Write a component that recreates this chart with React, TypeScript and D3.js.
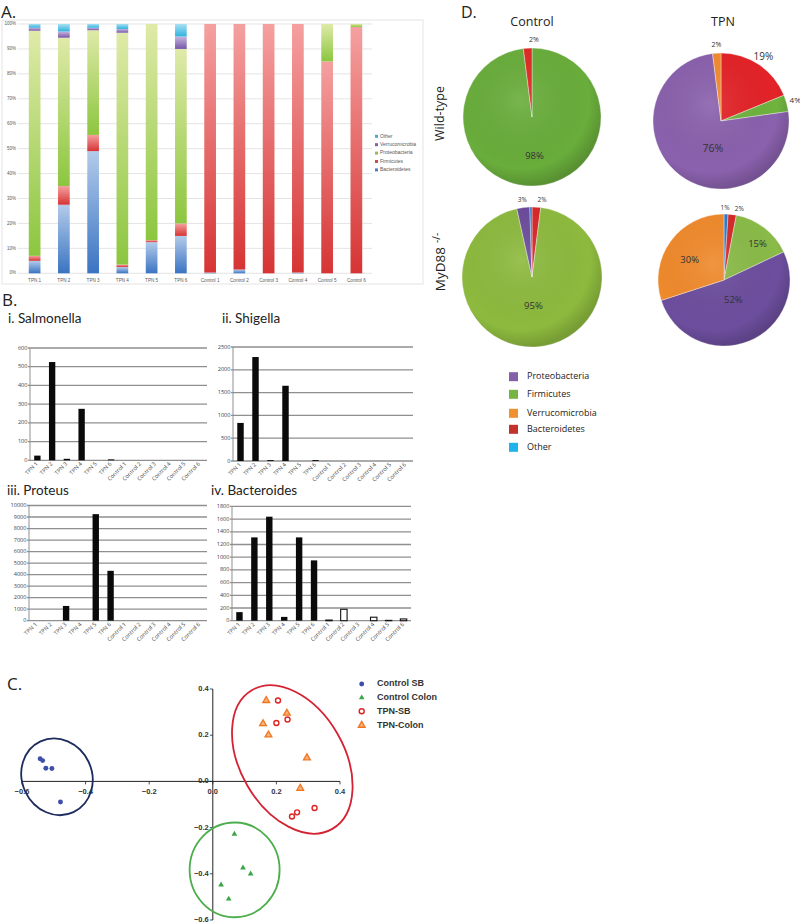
import React from 'react';
import * as d3 from 'd3';

// ---------- Panel A data ----------
const samples = ['TPN 1', 'TPN 2', 'TPN 3', 'TPN 4', 'TPN 5', 'TPN 6', 'Control 1', 'Control 2', 'Control 3', 'Control 4', 'Control 5', 'Control 6'];
const phylaA = ['Bacteroidetes', 'Firmicutes', 'Proteobacteria', 'Verrucomicrobia', 'Other'];
const bacteroidetesPct = [5, 27.5, 49, 2.5, 12.5, 15, 0.3, 1.5, 0, 0.3, 0, 0];
const firmicutesPct = [2, 7.5, 6.5, 1, 0.8, 5, 99.7, 98.5, 100, 99.7, 85, 98.8];
const proteobacteriaPct = [90.3, 59.5, 42, 93, 86.7, 70, 0, 0, 0, 0, 15, 1.2];
const verrucomicrobiaPct = [1.2, 2.5, 1, 1.5, 0, 5, 0, 0, 0, 0, 0, 0];
const otherPct = [1.5, 3, 1.5, 2, 0, 5, 0, 0, 0, 0, 0, 0];
const pctTicks = [0, 10, 20, 30, 40, 50, 60, 70, 80, 90, 100];

// ---------- Panel B data ----------
const salmonella = [25, 525, 8, 275, 0, 5, 0, 0, 0, 0, 0, 0];
const shigella = [835, 2280, 20, 1650, 0, 20, 0, 0, 0, 0, 0, 0];
const proteus = [0, 0, 1280, 0, 9250, 4330, 0, 0, 0, 0, 0, 0];
const bacteroides = [135, 1312, 1638, 60, 1312, 950, 10, 180, 0, 55, 5, 28];

// ---------- Panel C data ----------
const controlSB = [[-0.543, 0.098], [-0.535, 0.09], [-0.525, 0.057], [-0.506, 0.056], [-0.479, -0.089]];
const controlColon = [[0.068, -0.228], [0.095, -0.374], [0.119, -0.4], [0.026, -0.448], [0.05, -0.509]];
const tpnSB = [[0.205, 0.35], [0.2, 0.253], [0.235, 0.268], [0.249, -0.152], [0.265, -0.134], [0.32, -0.115]];
const tpnColon = [[0.168, 0.35], [0.233, 0.295], [0.158, 0.25], [0.175, 0.201], [0.296, 0.102], [0.275, -0.03]];
const pcTicks = [-0.6, -0.4, -0.2, 0, 0.2, 0.4];
const legendC = ['Control SB', 'Control Colon', 'TPN-SB', 'TPN-Colon'];

// ---------- Panel D data ----------
const wtControlNames = ['Firmicutes', 'Bacteroidetes'];
const wtControlPct = [98, 2];
const wtTpnNames = ['Bacteroidetes', 'Firmicutes', 'Proteobacteria', 'Verrucomicrobia'];
const wtTpnPct = [19, 4, 76, 2];
const myControlNames = ['Bacteroidetes', 'Firmicutes', 'Proteobacteria', 'Other'];
const myControlPct = [2, 95, 3, 0.5];
const myTpnNames = ['Other', 'Bacteroidetes', 'Firmicutes', 'Proteobacteria', 'Verrucomicrobia'];
const myTpnPct = [1, 2, 15, 52, 30];
const legendD = ['Proteobacteria', 'Firmicutes', 'Verrucomicrobia', 'Bacteroidetes', 'Other'];

// ---------- styles ----------
const SANS = "'Open Sans', 'Liberation Sans', sans-serif";
const ARIAL = "'Liberation Sans', Arial, sans-serif";
const LATO = "Lato, 'Open Sans', sans-serif";

const gradA: Record<string, [string, string]> = {
  Bacteroidetes: ['#3a74c2', '#b3cbea'],
  Firmicutes: ['#d63434', '#f5a0a0'],
  Proteobacteria: ['#8cc63f', '#dfeaa8'],
  Verrucomicrobia: ['#7656a8', '#c7b6df'],
  Other: ['#2fb2de', '#a8e0f3'],
};
const legendAColor: Record<string, string> = {
  Other: '#4bacc6', Verrucomicrobia: '#8064a2', Proteobacteria: '#9bbb59', Firmicutes: '#c0504d', Bacteroidetes: '#4f81bd',
};
const legendDColor: Record<string, string> = {
  Proteobacteria: '#8560a8', Firmicutes: '#78b443', Verrucomicrobia: '#f0902e', Bacteroidetes: '#c4302b', Other: '#1eb4e8',
};

function PanelA() {
  const x = d3.scaleBand<string>().domain(samples).range([20, 371]).paddingInner(0.6).paddingOuter(0.3);
  const y = d3.scaleLinear().domain([0, 100]).range([273.3, 24]);
  const rows = samples.map((s, i) => ({
    sample: s,
    Bacteroidetes: bacteroidetesPct[i],
    Firmicutes: firmicutesPct[i],
    Proteobacteria: proteobacteriaPct[i],
    Verrucomicrobia: verrucomicrobiaPct[i],
    Other: otherPct[i],
  }));
  const series = d3.stack<any>().keys(phylaA)(rows);
  const legendKeys = [...phylaA].reverse();
  return (
    <g>
      <defs>
        {phylaA.map((k) => (
          <linearGradient key={k} id={`gA-${k}`} x1="0" y1="1" x2="0" y2="0">
            <stop offset="0" stopColor={gradA[k][0]} />
            <stop offset="1" stopColor={gradA[k][1]} />
          </linearGradient>
        ))}
      </defs>
      <text x={1} y={18} fontSize={17} fontFamily={SANS} fill="#222">A.</text>
      <rect x={2} y={20} width={421} height={264} fill="none" stroke="#dcdcdc" strokeWidth={0.8} />
      {pctTicks.map((t) => (
        <g key={t}>
          <line x1={18} x2={372} y1={y(t)} y2={y(t)} stroke="#d9d9d9" strokeWidth={0.7} />
          <text x={16} y={y(t)} fontSize={4.5} textAnchor="end" dominantBaseline="middle" fill="#595959" fontFamily={ARIAL}>{t}%</text>
        </g>
      ))}
      {series.map((s) =>
        s.map((d, i) => {
          const h = y(d[0]) - y(d[1]);
          if (h <= 0.05) return null;
          return <rect key={s.key + i} x={x(samples[i])} y={y(d[1])} width={x.bandwidth()} height={h} fill={`url(#gA-${s.key})`} />;
        })
      )}
      {samples.map((s) => (
        <text key={s} x={(x(s) as number) + x.bandwidth() / 2} y={282} fontSize={4.6} textAnchor="middle" fill="#595959" fontFamily={ARIAL}>{s}</text>
      ))}
      {legendKeys.map((k, i) => (
        <g key={k}>
          <rect x={375} y={134.8 + i * 8.4} width={3} height={3} fill={legendAColor[k]} />
          <text x={380} y={136.3 + i * 8.4} fontSize={5} dominantBaseline="middle" fill="#595959" fontFamily={ARIAL}>{k}</text>
        </g>
      ))}
    </g>
  );
}

type BarProps = {
  title: string; tx: number; ty: number; values: number[];
  x0: number; x1: number; y0: number; y1: number; max: number; step: number; hollowControls?: boolean;
};

function BarPanel({ title, tx, ty, values, x0, x1, y0, y1, max, step, hollowControls }: BarProps) {
  const x = d3.scaleBand<string>().domain(samples).range([x0, x1]).paddingInner(0.57).paddingOuter(0.285);
  const y = d3.scaleLinear().domain([0, max]).range([y0, y1]);
  const ticks = d3.range(0, max + step / 2, step);
  return (
    <g>
      <text x={tx} y={ty} fontSize={13.5} fontFamily={LATO} fill="#222">{title}</text>
      {ticks.map((t) => (
        <g key={t}>
          <line x1={x0 - 2} x2={x1} y1={y(t)} y2={y(t)} stroke="#8f8f8f" strokeWidth={1.3} />
          <text x={x0 - 2.5} y={y(t)} fontSize={5.6} textAnchor="end" dominantBaseline="middle" fill="#444" fontFamily={SANS}>{t}</text>
        </g>
      ))}
      <line x1={x0} x2={x0} y1={y1} y2={y0} stroke="#8f8f8f" strokeWidth={1} />
      {values.map((v, i) => {
        const hollow = hollowControls && samples[i].startsWith('Control');
        const h = y(0) - y(v);
        if (h <= 0) return null;
        return (
          <rect key={i} x={x(samples[i])} y={y(v)} width={x.bandwidth()} height={h}
            fill={hollow ? '#fff' : '#0a0a0a'} stroke={hollow ? '#111' : 'none'} strokeWidth={hollow ? 1.1 : 0} />
        );
      })}
      {samples.map((s) => {
        const cx = (x(s) as number) + x.bandwidth() / 2;
        return (
          <text key={s} transform={`translate(${cx + 1},${y0 + 4}) rotate(-45)`} fontSize={5.6} textAnchor="end" fill="#444" fontFamily={SANS}>{s}</text>
        );
      })}
    </g>
  );
}

function PanelB() {
  return (
    <g>
      <text x={2} y={306} fontSize={17} fontFamily={SANS} fill="#222">B.</text>
      <BarPanel title="i. Salmonella" tx={8} ty={323} values={salmonella} x0={30} x1={207} y0={460.3} y1={348} max={600} step={100} />
      <BarPanel title="ii. Shigella" tx={222} ty={323} values={shigella} x0={233} x1={413} y0={461} y1={347} max={2500} step={500} />
      <BarPanel title="iii. Proteus" tx={7} ty={495} values={proteus} x0={29} x1={207} y0={620.7} y1={505.5} max={10000} step={1000} />
      <BarPanel title="iv. Bacteroides" tx={211} ty={495} values={bacteroides} x0={232} x1={411} y0={620.7} y1={506.4} max={1800} step={200} hollowControls />
    </g>
  );
}

function PanelC() {
  const x = d3.scaleLinear().domain([-0.6, 0.4]).range([22, 340]);
  const y = d3.scaleLinear().domain([-0.6, 0.4]).range([920, 689]);
  const fmt = d3.format('.1f');
  const tri = (size: number) => d3.symbol().type(d3.symbolTriangle).size(size)() as string;
  const dot = d3.symbol().type(d3.symbolCircle).size(19)() as string;
  // ellipse outlines: centre and radii in PC units, rotation in degrees
  const ellipses = [
    { c: [-0.49, 0.02], r: [0.11, 0.169], rot: -25, color: '#1d2b5e' },
    { c: [0.25, 0.095], r: [0.1635, 0.347], rot: -30, color: '#d42232' },
    { c: [0.0686, -0.383], r: [0.1415, 0.205], rot: 0, color: '#4cae4c' },
  ];
  const kx = x(1) - x(0);
  const ky = y(0) - y(1);
  const legendY = [684, 697.7, 711.3, 725.3];
  return (
    <g>
      <text x={7} y={690} fontSize={17} fontFamily={SANS} fill="#222">C.</text>
      <line x1={x(-0.6)} x2={x(0.4)} y1={y(0)} y2={y(0)} stroke="#222" strokeWidth={1} />
      <line x1={x(0)} x2={x(0)} y1={y(-0.6)} y2={y(0.4)} stroke="#222" strokeWidth={1} />
      {pcTicks.map((t) => (
        <g key={'x' + t}>
          <line x1={x(t)} x2={x(t)} y1={y(0)} y2={y(0) + 3} stroke="#222" strokeWidth={0.8} />
          <text x={x(t)} y={y(0) + 10.5} fontSize={7.5} fontWeight="bold" textAnchor="middle" dominantBaseline="middle" fill="#333" fontFamily={ARIAL}>{fmt(t)}</text>
        </g>
      ))}
      {pcTicks.map((t) => (
        <g key={'y' + t}>
          <line x1={x(0) - 3} x2={x(0)} y1={y(t)} y2={y(t)} stroke="#222" strokeWidth={0.8} />
          <text x={x(0) - 4} y={y(t)} fontSize={7.5} fontWeight="bold" textAnchor="end" dominantBaseline="middle" fill="#333" fontFamily={ARIAL}>{fmt(t)}</text>
        </g>
      ))}
      {ellipses.map((e, i) => (
        <ellipse key={i} cx={0} cy={0} rx={e.r[0] * kx} ry={e.r[1] * ky}
          transform={`translate(${x(e.c[0])},${y(e.c[1])}) rotate(${e.rot})`}
          fill="none" stroke={e.color} strokeWidth={1.8} />
      ))}
      {controlSB.map((p, i) => (
        <path key={'a' + i} d={dot} transform={`translate(${x(p[0])},${y(p[1])})`} fill="#3d4fa8" />
      ))}
      {controlColon.map((p, i) => (
        <path key={'b' + i} d={tri(14)} transform={`translate(${x(p[0])},${y(p[1])})`} fill="#3aa648" />
      ))}
      {tpnSB.map((p, i) => (
        <circle key={'c' + i} cx={x(p[0])} cy={y(p[1])} r={2.5} fill="none" stroke="#e02424" strokeWidth={1.4} />
      ))}
      {tpnColon.map((p, i) => (
        <path key={'d' + i} d={tri(20)} transform={`translate(${x(p[0])},${y(p[1])})`} fill="#f7b27a" stroke="#f07522" strokeWidth={1.3} />
      ))}
      {legendC.map((k, i) => (
        <g key={k}>
          {i === 0 && <path d={dot} transform={`translate(361.7,${legendY[i]})`} fill="#3d4fa8" />}
          {i === 1 && <path d={tri(14)} transform={`translate(361.7,${legendY[i]})`} fill="#3aa648" />}
          {i === 2 && <circle cx={361.7} cy={legendY[i]} r={2.5} fill="none" stroke="#e02424" strokeWidth={1.4} />}
          {i === 3 && <path d={tri(20)} transform={`translate(361.7,${legendY[i]})`} fill="#f7b27a" stroke="#f07522" strokeWidth={1.3} />}
          <text x={377} y={legendY[i]} fontSize={9} fontWeight="bold" dominantBaseline="middle" fill="#333" fontFamily={ARIAL}>{k}</text>
        </g>
      ))}
    </g>
  );
}

type PieProps = {
  id: string; cx: number; cy: number; r: number; values: number[]; colors: string[];
  labelR: number[]; labelShift: number[]; fonts: number[];
};

function Pie({ id, cx, cy, r, values, colors, labelR, labelShift, fonts }: PieProps) {
  const arcs = d3.pie<number>().sort(null).value((d) => d)(values);
  const arc = d3.arc<d3.PieArcDatum<number>>().innerRadius(0).outerRadius(r);
  return (
    <g transform={`translate(${cx},${cy})`}>
      {arcs.map((a, i) => (
        <path key={i} d={arc(a) as string} fill={colors[i]} stroke="rgba(255,255,255,0.55)" strokeWidth={0.7} />
      ))}
      <circle r={r} fill={`url(#${id})`} />
      {arcs.map((a, i) => {
        if (!fonts[i]) return null;
        const ang = (a.startAngle + a.endAngle) / 2 + (labelShift[i] * Math.PI) / 180;
        const rr = labelR[i] * r;
        return (
          <text key={'t' + i} x={rr * Math.sin(ang)} y={-rr * Math.cos(ang)} fontSize={fonts[i]} textAnchor="middle"
            dominantBaseline="middle" fill="#333" fontFamily={SANS}>{`${values[i]}%`}</text>
        );
      })}
    </g>
  );
}

function PanelD() {
  return (
    <g>
      <defs>
        <radialGradient id="pieShade" cx="42%" cy="38%" r="62%">
          <stop offset="0" stopColor="#fff" stopOpacity={0.1} />
          <stop offset="0.8" stopColor="#000" stopOpacity={0} />
          <stop offset="1" stopColor="#000" stopOpacity={0.16} />
        </radialGradient>
      </defs>
      <text x={461} y={18} fontSize={16} fontFamily={SANS} fill="#222">D.</text>
      <text x={532} y={26} fontSize={12.5} textAnchor="middle" fontFamily={SANS} fill="#222">Control</text>
      <text x={723} y={26} fontSize={12.5} textAnchor="middle" fontFamily={SANS} fill="#222">TPN</text>
      <text transform="translate(444,113.5) rotate(-90)" fontSize={12.5} textAnchor="middle" fontFamily={SANS} fill="#222">Wild-type</text>
      <text transform="translate(445,262) rotate(-90)" fontSize={13.5} textAnchor="middle" fontFamily={SANS} fill="#222">
        MyD88<tspan fontSize={10} dx={4} dy={-5}>-/-</tspan>
      </text>
      <Pie id="pieShade" cx={532} cy={117} r={69} values={wtControlPct}
        colors={wtControlNames.map((n) => ({ Firmicutes: '#69ad3b', Bacteroidetes: '#e02a25' } as any)[n])}
        labelR={[0.57, 1.12]} labelShift={[0, 5]} fonts={[9.5, 7]} />
      <Pie id="pieShade" cx={721} cy={121} r={68} values={wtTpnPct}
        colors={wtTpnNames.map((n) => ({ Bacteroidetes: '#e32328', Firmicutes: '#6fb33e', Proteobacteria: '#8a61ad', Verrucomicrobia: '#f28a30' } as any)[n])}
        labelR={[1.12, 1.13, 0.43, 1.12]} labelShift={[0, 0, -21, 0]} fonts={[10, 8, 10.5, 7]} />
      <Pie id="pieShade" cx={532} cy={277} r={70} values={myControlPct}
        colors={myControlNames.map((n) => ({ Bacteroidetes: '#d8282a', Firmicutes: '#8dba3e', Proteobacteria: '#6c4c9c', Other: '#2f78c8' } as any)[n])}
        labelR={[1.1, 0.42, 1.1, 0]} labelShift={[4, 0, 0, 0]} fonts={[6.5, 9.5, 6.5, 0]} />
      <Pie id="pieShade" cx={724} cy={280} r={66} values={myTpnPct}
        colors={myTpnNames.map((n) => ({ Other: '#2e7ac8', Bacteroidetes: '#d52a2a', Firmicutes: '#8abb48', Proteobacteria: '#6d4e9e', Verrucomicrobia: '#f08a2c' } as any)[n])}
        labelR={[1.09, 1.1, 0.74, 0.34, 0.6]} labelShift={[-1, 5, 5.5, -3, -6]} fonts={[6.5, 6.5, 9.5, 9.5, 9.5]} />
      {legendD.map((k, i) => {
        const ly = [376.7, 394.3, 413.3, 429.3, 447.3][i];
        return (
          <g key={k}>
            <rect x={509} y={ly - 4.5} width={9} height={9} fill={legendDColor[k]} />
            <text x={527} y={ly} fontSize={9} dominantBaseline="middle" fontFamily={SANS} fill="#222">{k}</text>
          </g>
        );
      })}
    </g>
  );
}

export default function App() {
  return (
    <svg width={800} height={924} viewBox="0 0 800 924" style={{ position: 'absolute', left: 0, top: 0, background: '#fff' }}>
      <rect width={800} height={924} fill="#fff" />
      <PanelA />
      <PanelB />
      <PanelC />
      <PanelD />
    </svg>
  );
}
